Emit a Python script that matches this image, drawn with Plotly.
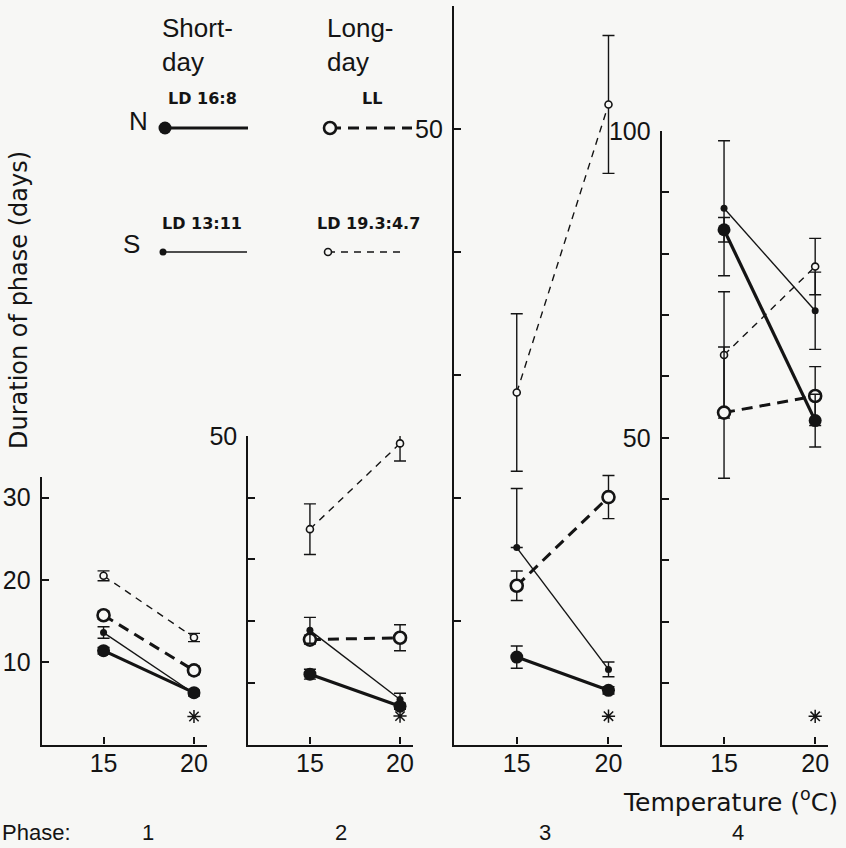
import plotly.graph_objects as go

# ---------------- data ----------------
temps = [15, 20]
phases = ["1", "2", "3", "4"]

# N, short-day (LD 16:8): big filled, thick solid
n_short_vals = [[11.4, 6.3], [11.4, 6.2], [7.1, 4.4], [83.9, 52.8]]
n_short_err = [[0.4, 0.3], [0.8, 0.5], [0.9, 0.3], [2.0, 4.3]]
# N, long-day (LL): big open, thick dashed
n_long_vals = [[15.7, 9.0], [17.0, 17.3], [12.9, 20.1], [54.1, 56.8]]
n_long_err = [[0.5, 0.5], [0.7, 2.1], [1.2, 1.75], [10.7, 4.8]]
# S, short-day (LD 13:11): small filled, thin solid
s_short_vals = [[13.6, 6.2], [18.5, 7.3], [16.0, 6.1], [87.4, 70.7]]
s_short_err_up = [[0.7, 0.3], [2.1, 1.0], [4.8, 0.6], [11.0, 6.3]]
s_short_err_dn = [[0.7, 0.3], [2.1, 1.0], [0.0, 0.6], [11.0, 6.3]]
# S, long-day (LD 19.3:4.7): small open, thin dashed
s_long_vals = [[20.5, 13.0], [34.9, 48.8], [28.6, 52.0], [63.5, 77.9]]
s_long_err = [[0.6, 0.5], [4.1, 2.85], [6.4, 5.6], [10.3, 4.6]]
# significance asterisks at 20 °C
star_temp = 20
star_vals = [3.4, 4.6, 2.3, 4.6]

# ---------------- layout geometry ----------------
W, H = 846, 848
BG = "#f7f7f5"
INK = "#141414"
FONT = "Liberation Sans"
WIDE = "DejaVu Sans"

def fx(p):
    return p / W

def fy(p):
    return 1 - p / H

panels = [
    dict(x0=41.7, x1=207, yb=744.5, yt=477, ymax=32.5,
         tv=[10, 20, 30], tt=["10", "20", "30"]),
    dict(x0=248.3, x1=413, yb=744.5, yt=436, ymax=50,
         tv=[10, 20, 30, 40, 50], tt=["", "", "", "", "50"]),
    dict(x0=454, x1=621.7, yb=744.5, yt=6, ymax=60,
         tv=[10, 20, 30, 40, 50, 60], tt=["", "", "", "", "50", ""]),
    dict(x0=661.7, x1=828.3, yb=744.5, yt=131, ymax=100,
         tv=list(range(10, 101, 10)), tt=[""] * 4 + ["50"] + [""] * 4 + ["100"]),
]

fig = go.Figure()

styles = {
    "s_long": dict(line=dict(color=INK, width=1.4, dash="7px,6px"),
                   marker=dict(symbol="circle", size=7, color=BG, line=dict(color=INK, width=1.6))),
    "n_long": dict(line=dict(color=INK, width=3, dash="11px,7px"),
                   marker=dict(symbol="circle", size=12, color=BG, line=dict(color=INK, width=2.6))),
    "s_short": dict(line=dict(color=INK, width=1.4),
                    marker=dict(symbol="circle", size=7, color=INK, line=dict(color=INK, width=0))),
    "n_short": dict(line=dict(color=INK, width=3.2),
                    marker=dict(symbol="circle", size=13, color=INK, line=dict(color=INK, width=0))),
}

def eb(up, dn=None):
    d = dict(type="data", array=up, color=INK, thickness=1.4, width=6, visible=True)
    if dn is not None:
        d["symmetric"] = False
        d["arrayminus"] = dn
    return d

for i, p in enumerate(panels):
    ax = "" if i == 0 else str(i + 1)
    xa, ya = "x" + ax, "y" + ax
    series = [
        ("s_long", s_long_vals[i], eb(s_long_err[i])),
        ("n_long", n_long_vals[i], eb(n_long_err[i])),
        ("s_short", s_short_vals[i], eb(s_short_err_up[i], s_short_err_dn[i])),
        ("n_short", n_short_vals[i], eb(n_short_err[i])),
    ]
    for key, vals, err in series:
        fig.add_trace(go.Scatter(x=temps, y=vals, mode="lines+markers", error_y=err,
                                 xaxis=xa, yaxis=ya, showlegend=False, cliponaxis=False,
                                 hoverinfo="skip", **styles[key]))
    fig.add_trace(go.Scatter(x=[star_temp], y=[star_vals[i]], mode="markers",
                             marker=dict(symbol="asterisk-open", size=11, color=INK,
                                         line=dict(color=INK, width=1.5)),
                             xaxis=xa, yaxis=ya, showlegend=False, cliponaxis=False, hoverinfo="skip"))

    xkey = "xaxis" + ax
    ykey = "yaxis" + ax
    fig.layout[xkey] = dict(domain=[fx(p["x0"]), fx(p["x1"])], range=[11.58, 20.72],
                            anchor=ya, tickvals=temps, ticktext=[str(t) for t in temps],
                            ticks="inside", ticklen=7, tickwidth=1.6, tickcolor=INK,
                            showline=True, linewidth=2.2, linecolor=INK, showgrid=False,
                            zeroline=False, automargin=False, ticklabelstandoff=-5,
                            tickfont=dict(family=FONT, size=25, color=INK))
    fig.layout[ykey] = dict(domain=[fy(p["yb"]), fy(p["yt"])], range=[0, p["ymax"]],
                            anchor=xa, tickvals=p["tv"], ticktext=p["tt"],
                            ticks="inside", ticklen=7, tickwidth=1.6, tickcolor=INK,
                            showline=True, linewidth=2.2, linecolor=INK, showgrid=False,
                            zeroline=False, automargin=False, ticklabelstandoff=4,
                            tickfont=dict(family=FONT, size=25, color=INK))

# ---------------- key (top-left), drawn on a hidden pixel-like axis ----------------
key_items = [
    ("n_short", [165, 248], [128, 128]),
    ("n_long", [330, 412], [128, 128]),
    ("s_short", [163, 247], [252, 252]),
    ("s_long", [328, 405], [252, 252]),
]
for key, kx, ky in key_items:
    st = styles[key]
    fig.add_trace(go.Scatter(x=kx, y=ky, mode="lines", line=st["line"], xaxis="x5", yaxis="y5",
                             showlegend=False, hoverinfo="skip", cliponaxis=False))
    fig.add_trace(go.Scatter(x=kx[:1], y=ky[:1], mode="markers", marker=st["marker"],
                             xaxis="x5", yaxis="y5", showlegend=False, hoverinfo="skip",
                             cliponaxis=False))
fig.layout["xaxis5"] = dict(domain=[0, 0.5], range=[0, 423], visible=False, anchor="y5",
                            automargin=False)
fig.layout["yaxis5"] = dict(domain=[0.5, 1], range=[424, 0], visible=False, anchor="x5",
                            automargin=False)

ann = []
def text(s, x, y, size, xanchor="left", yanchor="middle", angle=0, family=FONT):
    ann.append(dict(text=s, x=fx(x), y=fy(y), xref="paper", yref="paper", showarrow=False,
                    xanchor=xanchor, yanchor=yanchor, textangle=angle, align="left",
                    font=dict(family=family, size=size, color=INK)))

text("Short-<br>day", 160, 11, 26, yanchor="top")
text("Long-<br>day", 325, 11, 26, yanchor="top")
text("<b>LD 16:8</b>", 166, 98, 16, family=WIDE)
text("<b>LL</b>", 360, 98, 16, family=WIDE)
text("N", 127, 121, 26)
text("<b>LD 13:11</b>", 160, 224, 16, family=WIDE)
text("<b>LD 19.3:4.7</b>", 315, 224, 16, family=WIDE)
text("S", 121, 244, 26)
text("Duration of phase (days)", 19, 300, 24, xanchor="center", angle=-90, family=WIDE)
text("Temperature (<sup>o</sup>C)", 840, 800, 25, xanchor="right", family=WIDE)
text("Phase:", 0, 832, 22)
phase_x = [148, 341, 545, 738]
for lab, x in zip(phases, phase_x):
    text(lab, x, 832, 22, xanchor="center")

fig.update_layout(width=W, height=H, margin=dict(l=0, r=0, t=0, b=0, autoexpand=False),
                  paper_bgcolor=BG, plot_bgcolor=BG, annotations=ann)

fig.write_html("out.html", config={"displayModeBar": False},
               post_script="document.body.style.margin='0px';document.body.style.padding='0px';")
